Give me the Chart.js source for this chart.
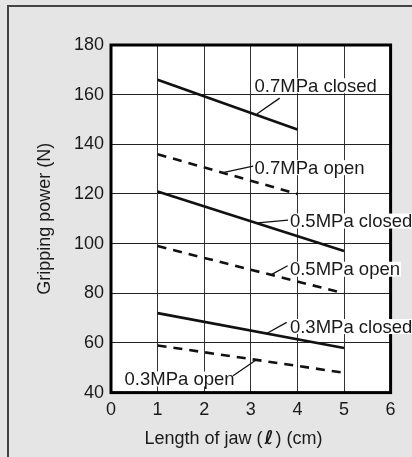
<!DOCTYPE html>
<html>
<head>
<meta charset="utf-8">
<script src="https://cdn.jsdelivr.net/npm/chart.js@4/dist/chart.umd.min.js"></script>
<style>
  html, body { margin: 0; padding: 0; background: #e5e5e5; overflow: hidden; }
  #wrap { position: relative; width: 412px; height: 457px; }
  #frame { position: absolute; left: 7px; top: 5px; width: 500px; height: 500px;
           border-top: 2px solid #444; border-left: 2px solid #444; box-sizing: border-box; }
  canvas { position: absolute; left: 0; top: 0; }
</style>
</head>
<body>
<div id="wrap">
  <div id="frame"></div>
  <canvas id="c" width="412" height="457"></canvas>
</div>
<script>
// ---- data ----
const xTicks = [0, 1, 2, 3, 4, 5, 6];
const yTicks = [40, 60, 80, 100, 120, 140, 160, 180];
const seriesNames = ['0.7MPa closed', '0.7MPa open', '0.5MPa closed', '0.5MPa open', '0.3MPa closed', '0.3MPa open'];
const x07 = [1, 4];
const x05 = [1, 5];
const x03 = [1, 5];
const closed07 = [166, 146];
const open07 = [136, 120];
const closed05 = [121, 97];
const open05 = [99, 80];
const closed03 = [72, 58];
const open03 = [59, 48];
const xTitleParts = ['Length of jaw (', 'ℓ', ') (cm)'];
const yTitle = 'Gripping power (N)';

// annotation callouts (data units): leader from -> to, label at
const callouts = [
  { text: seriesNames[0], from: [3.13, 152.2], to: [3.62, 158.6], at: [3.08, 163.6] },
  { text: seriesNames[1], from: [2.40, 128.6], to: [3.05, 131.2], at: [3.08, 130.6] },
  { text: seriesNames[2], from: [3.15, 108.4], to: [3.80, 109.5], at: [3.84, 109.1] },
  { text: seriesNames[3], from: [3.45, 87.6], to: [3.79, 91.1], at: [3.84, 89.7] },
  { text: seriesNames[4], from: [3.35, 63.9], to: [3.77, 68.3], at: [3.84, 66.6] },
  { text: seriesNames[5], from: [3.12, 53.2], to: [2.62, 46.8], at: [0.29, 45.5] }
];

function pts(xs, ys) { return xs.map((x, i) => ({ x: x, y: ys[i] })); }

const FONT = "'Liberation Sans', Arial, sans-serif";
const FS = 18;
const LFS = 18.5;

const solid = { borderColor: '#111', borderWidth: 2.6, pointRadius: 0, fill: false, tension: 0 };
const dashed = Object.assign({}, solid, { borderDash: [9, 7] });

const areaPlugin = {
  id: 'area',
  beforeDraw(chart) {
    const a = chart.chartArea, ctx = chart.ctx;
    ctx.save();
    ctx.fillStyle = '#ffffff';
    ctx.fillRect(a.left, a.top, a.right - a.left, a.bottom - a.top);
    ctx.restore();
  },
  afterDraw(chart) {
    const a = chart.chartArea, ctx = chart.ctx;
    const xs = chart.scales.x, ys = chart.scales.y;
    ctx.save();
    ctx.strokeStyle = '#000';
    ctx.lineWidth = 3;
    ctx.strokeRect(a.left, a.top, a.right - a.left, a.bottom - a.top);
    ctx.font = LFS + 'px ' + FONT;
    ctx.textBaseline = 'middle';
    ctx.textAlign = 'left';
    callouts.forEach(c => {
      const fx = xs.getPixelForValue(c.from[0]), fy = ys.getPixelForValue(c.from[1]);
      const tx = xs.getPixelForValue(c.to[0]), ty = ys.getPixelForValue(c.to[1]);
      const lx = xs.getPixelForValue(c.at[0]), ly = ys.getPixelForValue(c.at[1]);
      const w = ctx.measureText(c.text).width;
      ctx.fillStyle = '#ffffff';
      ctx.fillRect(lx - 1, ly - 7.5, w + 2, 15);
      ctx.strokeStyle = '#111';
      ctx.lineWidth = 1.3;
      ctx.beginPath();
      ctx.moveTo(fx, fy);
      ctx.lineTo(tx, ty);
      ctx.stroke();
      ctx.fillStyle = '#1a1a1a';
      ctx.fillText(c.text, lx, ly + 1);
    });
    // x axis title with bold script l
    const fonts = [FS + 'px ' + FONT, 'bold italic 19px "DejaVu Sans", sans-serif', FS + 'px ' + FONT];
    const widths = xTitleParts.map((t, i) => { ctx.font = fonts[i]; return ctx.measureText(t).width; });
    const gaps = [2, 2];
    const total = widths[0] + widths[1] + widths[2] + gaps[0] + gaps[1];
    let x = 233.5 - total / 2;
    const y = 439;
    ctx.fillStyle = '#1a1a1a';
    xTitleParts.forEach((t, i) => {
      ctx.font = fonts[i];
      ctx.fillText(t, x, y);
      x += widths[i] + (gaps[i] || 0);
    });
    ctx.restore();
  }
};

new Chart(document.getElementById('c'), {
  type: 'line',
  data: {
    datasets: [
      Object.assign({ label: seriesNames[0], data: pts(x07, closed07) }, solid),
      Object.assign({ label: seriesNames[1], data: pts(x07, open07) }, dashed),
      Object.assign({ label: seriesNames[2], data: pts(x05, closed05) }, solid),
      Object.assign({ label: seriesNames[3], data: pts(x05, open05) }, dashed),
      Object.assign({ label: seriesNames[4], data: pts(x03, closed03) }, solid),
      Object.assign({ label: seriesNames[5], data: pts(x03, open03) }, dashed)
    ]
  },
  options: {
    responsive: false,
    animation: false,
    devicePixelRatio: 1,
    layout: { padding: { left: 0, right: 21.4, top: 45, bottom: 0 } },
    plugins: { legend: { display: false }, tooltip: { enabled: false } },
    scales: {
      x: {
        type: 'linear', min: 0, max: 6,
        afterBuildTicks(s) { s.ticks = xTicks.map(v => ({ value: v })); },
        afterFit(s) { s.height = 64.4; },
        grid: { color: '#333', lineWidth: 1, drawTicks: false },
        border: { display: false },
        ticks: { color: '#1a1a1a', padding: 7, font: { family: FONT, size: FS } },
        title: { display: false }
      },
      y: {
        type: 'linear', min: 40, max: 180,
        afterBuildTicks(s) { s.ticks = yTicks.map(v => ({ value: v })); },
        afterFit(s) { s.width = 111; },
        grid: { color: '#222', lineWidth: 1, drawTicks: false },
        border: { display: false },
        ticks: { color: '#1a1a1a', padding: 7, font: { family: FONT, size: FS } },
        title: { display: true, text: yTitle, color: '#1a1a1a',
                 font: { family: FONT, size: FS, lineHeight: 1.2 }, padding: { top: 34.2, bottom: 0 } }
      }
    }
  },
  plugins: [areaPlugin]
});
</script>
</body>
</html>
